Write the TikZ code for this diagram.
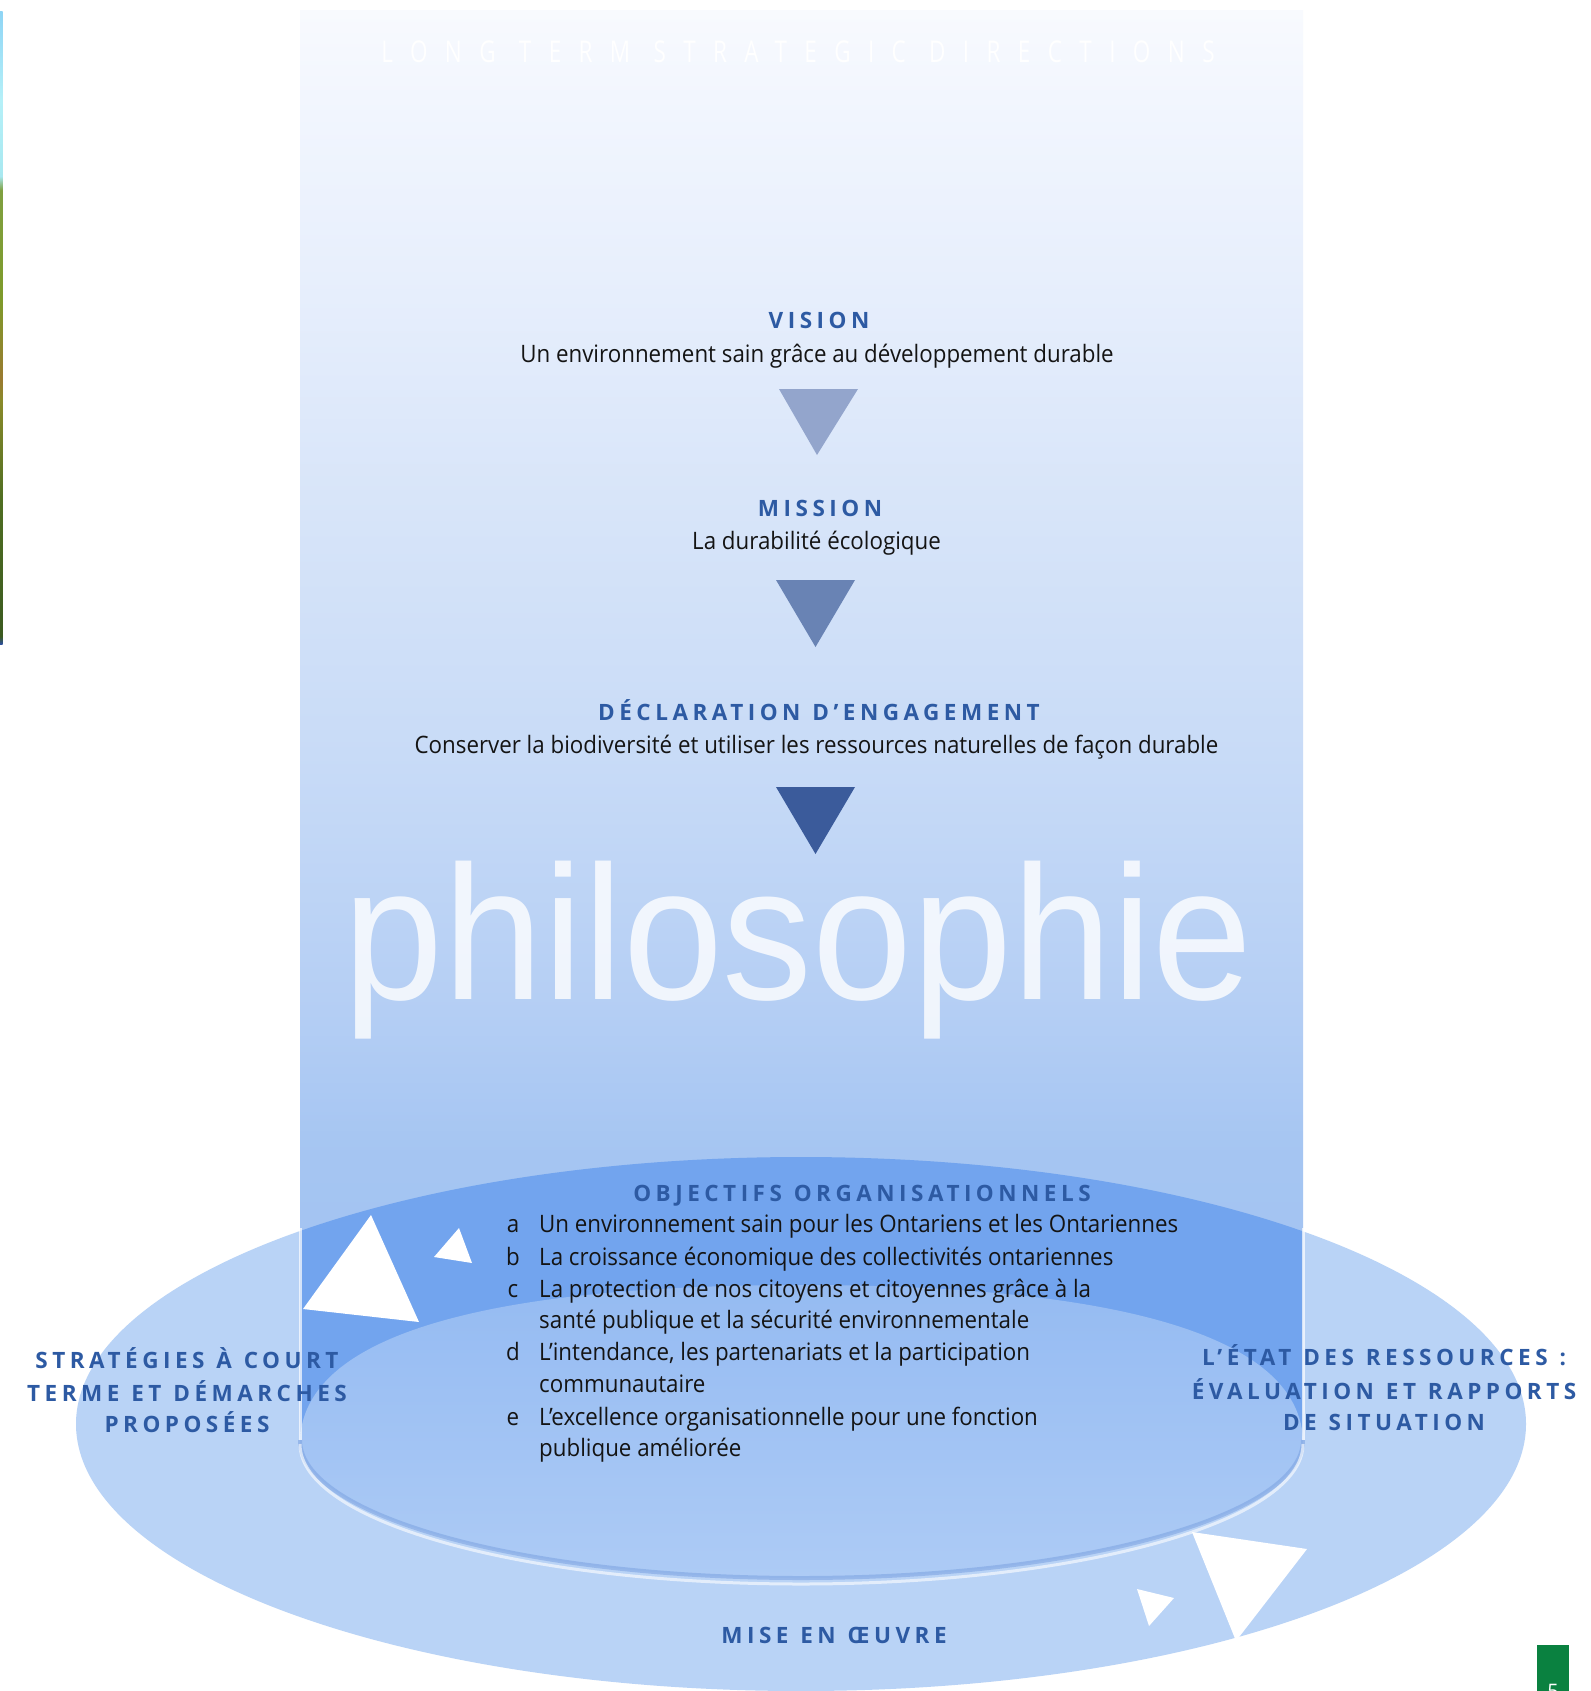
\documentclass[tikz,border=0pt]{standalone}
\usepackage{fontspec}
\setmainfont{Open Sans}
\newfontfamily\hdfont[LetterSpace=20,WordSpace=1.15]{Open Sans}
\newfontfamily\bdfont[FakeStretch=0.93]{Open Sans}
\newfontfamily\ttlfont[FakeStretch=0.75,LetterSpace=58]{Open Sans}
\newfontfamily\phfont[FakeStretch=0.94]{Liberation Sans}
\definecolor{outerc}{HTML}{B9D3F6}
\definecolor{bandc}{HTML}{72A4EE}
\definecolor{innt}{HTML}{95BBF2}
\definecolor{innb}{HTML}{ADCBF5}
\definecolor{rimc}{HTML}{7FA5E2}
\definecolor{tria}{HTML}{93A5CC}
\definecolor{trib}{HTML}{6983B4}
\definecolor{tric}{HTML}{3B5B9B}
\definecolor{hdblue}{HTML}{2D5AA3}
\definecolor{gboxc}{HTML}{0A8140}
\definecolor{ca}{HTML}{A0C2F2}
\definecolor{cb}{HTML}{A5C5F2}
\definecolor{cc}{HTML}{B4CEF4}
\definecolor{cd}{HTML}{C8DBF7}
\definecolor{ce}{HTML}{D8E5F9}
\definecolor{cf}{HTML}{E6EEFC}
\definecolor{cg}{HTML}{F2F6FE}
\definecolor{ch}{HTML}{F8FAFE}
\definecolor{sa}{HTML}{2E4F9E}
\definecolor{sb}{HTML}{3B5A20}
\definecolor{sc}{HTML}{4F6E22}
\definecolor{sd}{HTML}{8A8A2A}
\definecolor{se}{HTML}{9A7A30}
\definecolor{sf}{HTML}{7E9A2A}
\definecolor{sg}{HTML}{7FA040}
\definecolor{sh}{HTML}{A8E8F0}
\definecolor{si}{HTML}{B5F0F8}
\definecolor{sj}{HTML}{8FD5F5}
\pgfdeclareverticalshading{colshade}{100bp}{color(0bp)=(ca); color(25bp)=(ca); color(35bp)=(cb); color(40bp)=(cc); color(49bp)=(cd); color(58bp)=(ce); color(65bp)=(cf); color(72bp)=(cg); color(75bp)=(ch); color(100bp)=(ch)}
\pgfdeclareverticalshading{stripeshade}{100bp}{color(0bp)=(sa); color(25bp)=(sa); color(25.6bp)=(sb); color(36.4bp)=(sc); color(44.3bp)=(sd); color(45.9bp)=(se); color(52.2bp)=(sf); color(60.9bp)=(sg); color(62bp)=(sh); color(68bp)=(si); color(75bp)=(sj); color(100bp)=(sj)}
\begin{document}
\begin{tikzpicture}[x=1pt,y=-1pt,
  hd/.style={font=\hdfont\bfseries\fontsize{22.5}{26}\selectfont, text=hdblue, inner sep=0, anchor=base},
  bd/.style={font=\bdfont\fontsize{24}{28}\selectfont, text=black!92, inner sep=0, anchor=base},
  li/.style={bd, anchor=base west},
  lt/.style={bd, anchor=base},
  ttl/.style={font=\ttlfont\fontsize{30}{32}\selectfont, text=white, inner sep=0, anchor=base},
  ph/.style={font=\phfont\fontsize{191}{200}\selectfont, text=white, text opacity=0.8, inner sep=0, anchor=base},
  wtri/.style={fill=white}]
\useasboundingbox (0,0) rectangle (1590,1691);
\fill[white] (0,0) rectangle (1590,1691);
\clip (0,0) rectangle (1590,1691);
% outer ellipse
\fill[outerc] (801,1424) ellipse [x radius=725, y radius=267];
% column
\shade[shading=colshade] (300,11) rectangle (1303,1440);
\begin{scope}
\clip (801,1424) ellipse [x radius=725, y radius=267];
\fill[bandc] (300,11) rectangle (1303,1440);
\end{scope}
% inner region
\shade[top color=innt, bottom color=innb] (300,1440) .. controls (305,1320) and (540,1285) .. (801,1285) .. controls (1062,1285) and (1298,1320) .. (1303,1440) .. controls (1303,1516) and (1078,1578) .. (801,1578) .. controls (524,1578) and (300,1516) .. (300,1440) -- cycle;
\draw[rimc, line width=4, opacity=.6] (1303,1440) .. controls (1303,1516) and (1078,1578) .. (801,1578) .. controls (524,1578) and (300,1516) .. (300,1440);
\draw[white, line width=3, opacity=.6] (1303,1444) .. controls (1303,1522) and (1078,1584) .. (801,1584) .. controls (524,1584) and (300,1522) .. (300,1444);
\draw[white, line width=3, opacity=.7] (300,1228) -- (300,1440);
\draw[white, line width=3, opacity=.7] (1303,1228) -- (1303,1440);
% big word
\node[ph] (philo) at (798,999) {philosophie};
% title
\node[ttl] (title) at (798,63) {LONG TERM STRATEGIC DIRECTIONS};
% down triangles
\fill[tria] (779,389) -- (858,389) -- (817,455) -- cycle;
\fill[trib] (776,580) -- (855,580) -- (815.5,647) -- cycle;
\fill[tric] (776,787) -- (855,787) -- (815.5,854) -- cycle;
% white triangles
\fill[wtri] (371,1215) -- (303,1309) -- (419,1322) -- cycle;
\fill[wtri] (459,1228) -- (434,1257) -- (472,1263) -- cycle;
\fill[wtri] (1192,1532) -- (1307,1549) -- (1236,1641) -- cycle;
\fill[wtri] (1137,1589) -- (1174,1598) -- (1149,1626) -- cycle;
% headers and texts
\node[hd] (vision) at (819,328) {VISION};
\node[bd] (visiontxt) at (817,362) {Un environnement sain grâce au développement durable};
\node[hd] (mission) at (820,516) {MISSION};
\node[bd] (missiontxt) at (816.5,549) {La durabilité écologique};
\node[hd] (decl) at (819,720) {DÉCLARATION D’ENGAGEMENT};
\node[bd] (decltxt) at (816.5,753) {Conserver la biodiversité et utiliser les ressources naturelles de façon durable};
\node[hd] (obj) at (862,1201) {OBJECTIFS ORGANISATIONNELS};
\node[lt] (la) at (513,1232) {a};
\node[li] (ta) at (539,1232) {Un environnement sain pour les Ontariens et les Ontariennes};
\node[lt] (lb) at (513,1265) {b};
\node[li] (tb) at (539,1265) {La croissance économique des collectivités ontariennes};
\node[lt] (lc) at (513,1297) {c};
\node[li] (tc) at (539,1297) {La protection de nos citoyens et citoyennes grâce à la};
\node[li] (tc2) at (539,1328) {santé publique et la sécurité environnementale};
\node[lt] (ld) at (513,1360) {d};
\node[li] (td) at (539,1360) {L’intendance, les partenariats et la participation};
\node[li] (td2) at (539,1392) {communautaire};
\node[lt] (le) at (513,1425) {e};
\node[li] (te) at (539,1425) {L’excellence organisationnelle pour une fonction};
\node[li] (te2) at (539,1456) {publique améliorée};
\node[hd] (left1) at (187,1368) {STRATÉGIES À COURT};
\node[hd] (left2) at (187,1401) {TERME ET DÉMARCHES};
\node[hd] (left3) at (187,1432) {PROPOSÉES};
\node[hd] (right1) at (1384,1365) {L’ÉTAT DES RESSOURCES :};
\node[hd] (right2) at (1384,1399) {ÉVALUATION ET RAPPORTS};
\node[hd] (right3) at (1384,1430) {DE SITUATION};
\node[hd] (mise) at (834,1643) {MISE EN ŒUVRE};
% side stripe and page box
\shade[shading=stripeshade] (0,12) rectangle (2.5,644);
\fill[gboxc] (1537,1645) rectangle (1569,1691);
\node[font=\fontsize{20}{22}\selectfont, text=white, inner sep=0, anchor=north] (pagenum) at (1553,1684) {5};
\end{tikzpicture}
\end{document}
